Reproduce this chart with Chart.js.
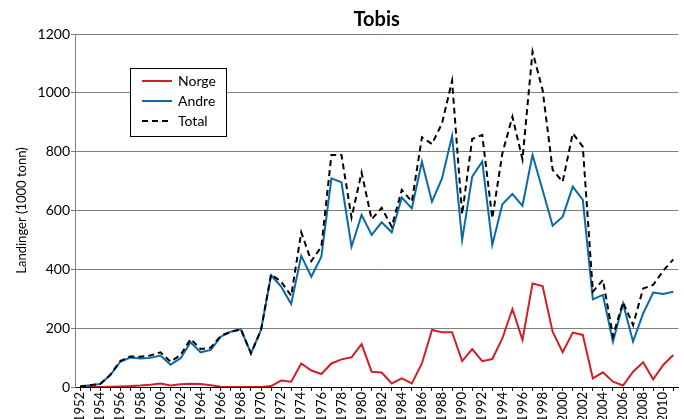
<!DOCTYPE html>
<html>
<head>
<meta charset="utf-8">
<script src="https://cdn.jsdelivr.net/npm/chart.js@4.4.0/dist/chart.umd.min.js"></script>
<style>
  html, body { margin: 0; padding: 0; background: #fff; overflow: hidden; }
  #wrap { width: 690px; height: 419px; position: relative; }
</style>
</head>
<body>
<div id="wrap"><canvas id="myChart"></canvas></div>
<script>
// years 1952 - 2011
const aar = [];
for (let y = 1952; y <= 2011; y++) aar.push(String(y));

const norge = [
  0, 0, 0, 1, 2, 3, 5, 8, 12, 5,
  9, 11, 10, 6, 1, 0, 0, 0, 0, 3,
  22, 18, 80, 56, 44, 80, 94, 101, 146, 52,
  49, 12, 29, 12, 80, 194, 186, 186, 88, 129,
  88, 95, 165, 265, 160, 352, 343, 188, 118, 185,
  177, 29, 50, 18, 5, 52, 84, 26, 75, 109
];

const andre = [
  2, 6, 10, 40, 86, 100, 97, 99, 107, 76,
  98, 152, 118, 126, 171, 188, 196, 114, 194, 380,
  341, 282, 446, 375, 443, 709, 696, 477, 585, 517,
  560, 526, 644, 607, 766, 630, 709, 854, 500, 715,
  766, 483, 621, 656, 616, 789, 670, 548, 579, 681,
  636, 298, 313, 154, 284, 154, 250, 321, 316, 324
];

const total = [
  2, 6, 10, 41, 88, 104, 103, 107, 118, 86,
  109, 163, 129, 134, 174, 188, 196, 114, 194, 383,
  358, 310, 526, 428, 477, 789, 789, 576, 729, 570,
  609, 545, 670, 630, 849, 826, 896, 1041, 587, 843,
  857, 573, 794, 919, 774, 1140, 1010, 738, 698, 862,
  817, 324, 364, 173, 288, 211, 335, 347, 395, 434
];

const yTicks = [0, 200, 400, 600, 800, 1000, 1200];

const rod = '#cf2027';
const bla = '#0b6aa5';

// legend box drawn inside the plot
const boksLegend = {
  id: 'boksLegend',
  afterDraw(chart) {
    const ctx = chart.ctx;
    const x0 = 130.5, y0 = 68.5, w = 96, h = 68;
    ctx.save();
    ctx.fillStyle = '#fff';
    ctx.fillRect(x0, y0, w, h);
    ctx.strokeStyle = '#000';
    ctx.lineWidth = 1;
    ctx.strokeRect(x0, y0, w, h);
    chart.data.datasets.forEach((ds, i) => {
      const y = 81 + i * 20;
      ctx.beginPath();
      ctx.strokeStyle = ds.borderColor;
      ctx.lineWidth = 2;
      ctx.setLineDash(ds.borderDash || []);
      ctx.moveTo(142, y);
      ctx.lineTo(172, y);
      ctx.stroke();
      ctx.setLineDash([]);
      ctx.fillStyle = '#000';
      ctx.font = '14px Lato';
      ctx.textBaseline = 'middle';
      ctx.textAlign = 'left';
      ctx.fillText(ds.label, 178, y);
    });
    ctx.restore();
  }
};

const ctx = document.getElementById('myChart').getContext('2d');
const myChart = new Chart(ctx, {
  type: 'line',
  data: {
    labels: aar,
    datasets: [
      { label: 'Norge', data: norge, borderColor: rod, borderWidth: 2, order: 3 },
      { label: 'Andre', data: andre, borderColor: bla, borderWidth: 2, order: 2 },
      { label: 'Total', data: total, borderColor: '#000', borderWidth: 2, borderDash: [6, 4], order: 1 }
    ]
  },
  options: {
    responsive: true,
    maintainAspectRatio: false,
    animation: false,
    layout: { padding: { left: 0, right: 2, top: 0, bottom: 0 } },
    elements: { point: { radius: 0 }, line: { tension: 0 } },
    plugins: {
      legend: { display: false },
      tooltip: { enabled: false },
      title: {
        display: true,
        text: 'Tobis',
        fullSize: false,
        color: '#000',
        font: { family: 'Lato', size: 20, weight: 'bold' },
        padding: { top: 8, bottom: 2 }
      }
    },
    scales: {
      x: {
        offset: true,
        grid: { display: true, drawOnChartArea: false, drawTicks: true, tickLength: 4, color: '#000', offset: false },
        border: { color: '#000', width: 1 },
        ticks: {
          autoSkip: false,
          minRotation: 90,
          maxRotation: 90,
          padding: 1,
          color: '#000',
          font: { family: 'Lato', size: 13 },
          callback: function (v, i) { return i % 2 === 0 ? aar[i] : ''; }
        },
        afterFit: (s) => { s.height = 32; }
      },
      y: {
        min: 0,
        max: 1200,
        afterBuildTicks: (s) => { s.ticks = yTicks.map(v => ({ value: v })); },
        grid: { color: '#7f7f7f', lineWidth: 1, tickLength: 4 },
        border: { color: '#808080', width: 1 },
        ticks: {
          color: '#000',
          padding: 1,
          font: { family: 'Lato', size: 14 },
          callback: (v) => String(v)
        },
        title: {
          display: true,
          text: 'Landinger (1000 tonn)',
          color: '#000',
          font: { family: 'Lato', size: 13 },
          padding: { top: 14, bottom: 0 }
        },
        afterFit: (s) => { s.width = 75; }
      }
    }
  },
  plugins: [boksLegend]
});
</script>
</body>
</html>
